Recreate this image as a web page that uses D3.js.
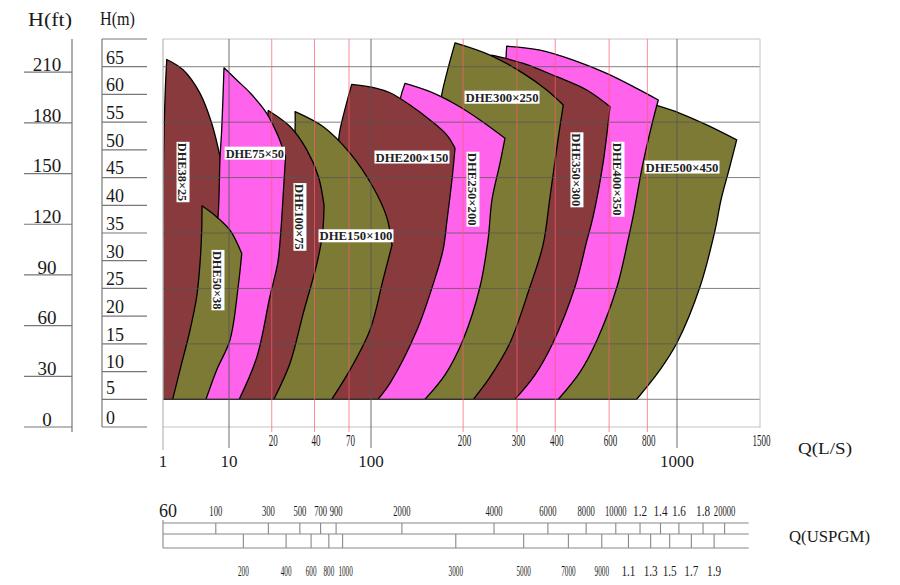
<!DOCTYPE html>
<html lang="en">
<head>
  <meta charset="UTF-8">
  <title>DHE pump selection chart</title>
  <style>
    body { margin: 0; background: #fff; }
    svg { display: block; }
    .serif { font-family: "Liberation Serif", "DejaVu Serif", serif; fill: #1a1a1a; }
    .pump-label { font-family: "Liberation Serif", "DejaVu Serif", serif; font-weight: bold; fill: #222; }
  </style>
  <script src="https://cdn.jsdelivr.net/npm/d3@7"></script>
</head>
<body>
  <svg id="chart"></svg>
  <script>
    // ---- axis ticks ----
    const mTicks = [0, 5, 10, 15, 20, 25, 30, 35, 40, 45, 50, 55, 60, 65];
    const ftTicks = [0, 30, 60, 90, 120, 150, 180, 210];
    const gridH = [5, 15, 25, 35, 45, 55, 65];
    const qDecades = [1, 10, 100, 1000];
    const qRed = [20, 40, 70, 200, 300, 400, 600, 800];
    const qEdge = 1500;
    const gpmTop = [100, 300, 500, 700, 900, 2000, 4000, 6000, 8000, 10000, 12000, 14000, 16000, 18000, 20000];
    const gpmTopText = ["100", "300", "500", "700", "900", "2000", "4000", "6000", "8000", "10000", "1.2", "1.4", "1.6", "1.8", "20000"];
    const gpmBottom = [200, 400, 600, 800, 1000, 3000, 5000, 7000, 9000, 11000, 13000, 15000, 17000, 19000];
    const gpmBottomText = ["200", "400", "600", "800", "1000", "3000", "5000", "7000", "9000", "1.1", "1.3", "1.5", "1.7", "1.9"];
    const gpmPerLs = 15.85;
    const rulerEndGpm = 22500;

    // ---- pump envelopes, [Q (L/s), H (m)] ----
    const dhe38 = {
      left: [[1, 5], [1.0, 41], [1.07, 59], [1.14, 66.3]],
      top: [[1.14, 66.3], [2.03, 64.4], [3.64, 60.2], [5.47, 54.8], [7.31, 48.8]],
      right: [[7.31, 48.8], [8.4, 41], [8.7, 30], [6.1, 5]]
    };
    const dhe50 = {
      left: [[1.40, 5], [1.81, 10.3], [2.57, 17.5], [3.24, 23.5], [3.64, 29.6], [3.86, 35.5], [3.90, 39.9]],
      top: [[3.90, 39.9], [6.51, 37.9], [10.16, 35.5], [12.3, 31.3]],
      right: [[12.3, 31.3], [11.6, 25.3], [10.16, 15.7], [6.51, 10.3], [4.48, 5]]
    };
    const dhe75 = {
      left: [[2.57, 5], [4.33, 22.9], [6.14, 34.6], [6.81, 37.9], [7.31, 48.5], [7.75, 53.6], [8.4, 64.8]],
      top: [[8.4, 64.8], [11.33, 62.6], [14.06, 60.3], [18.43, 56.6], [22.24, 52.4], [25.0, 48.7]],
      right: [[25.0, 48.7], [24.2, 42.8], [23.2, 35.5], [22.1, 29.8], [19.4, 23.5], [15.7, 12.6], [11.8, 5]]
    };
    const dhe100 = {
      left: [[8.7, 5], [12.96, 17.5], [16.5, 35.5], [17.9, 50], [18.9, 57.1]],
      top: [[18.9, 57.1], [26.9, 54.2], [35.3, 50], [42.6, 45.2], [46.7, 40]],
      right: [[46.7, 40], [45.6, 35], [41.7, 29.6], [33.4, 20.6], [26.9, 11.5], [20.7, 5]]
    };
    const dhe150 = {
      left: [[16.5, 5], [22.9, 22.9], [26.9, 41], [29.2, 53.9], [29.2, 56.9]],
      top: [[29.2, 56.9], [45.9, 54.2], [71.1, 49.4], [101.5, 43.3], [112.5, 37.9], [117.1, 32.8]],
      right: [[117.1, 32.8], [109.4, 26.5], [98.4, 17.5], [71.1, 10.3], [52.9, 5]]
    };
    const dhe200 = {
      left: [[34.3, 5], [43.7, 22.9], [51.4, 41], [58.6, 50.9], [60.5, 53.6], [73.1, 61.8]],
      top: [[73.1, 61.8], [104.4, 61.1], [115.4, 60.3], [134.1, 58.1], [155.9, 55.4], [176.8, 52.7], [188.2, 50.3]],
      right: [[188.2, 50.3], [183.9, 44.6], [177.2, 37.3], [171.9, 31.9], [158.2, 25.1], [141.3, 17.5], [115.4, 7.9], [105.4, 5]]
    };
    const dhe250 = {
      left: [[83.6, 5], [111.1, 31.9], [119.8, 50], [124.4, 59], [129.2, 62]],
      top: [[129.2, 62], [155.9, 60.5], [190.6, 58.1], [227.1, 55.4], [274.1, 52.1]],
      right: [[274.1, 52.1], [264, 47.6], [248.5, 41], [241.2, 33.7], [227.1, 25.3], [199.8, 15.7], [174.5, 9.4], [150.1, 5]]
    };
    const dhe300 = {
      left: [[124.4, 5], [150.1, 31.9], [161.9, 50], [170.2, 59.9], [176.8, 63.8], [188.2, 69.3]],
      top: [[188.2, 69.3], [244.8, 67.1], [314.6, 63.8], [375.1, 60.8], [425, 58.1]],
      right: [[425, 58.1], [408.3, 51.8], [384.6, 41.5], [364.8, 32.8], [330.8, 25.3], [284.6, 15.2], [244.8, 9], [216, 5]]
    };
    const dhe350 = {
      left: [[168.1, 5], [195.4, 22.9], [227.1, 41], [241.2, 59], [248, 67.1]],
      top: [[248, 67.1], [314.6, 65.6], [404.4, 63.2], [507, 60.8], [603.9, 57.8]],
      right: [[603.9, 57.8], [573.2, 47.6], [531.6, 37.9], [507.9, 33.7], [464.2, 25.3], [393.3, 15.2], [343.5, 9.4], [295.5, 5]]
    };
    const dhe400 = {
      left: [[227.1, 5], [244.8, 22.9], [264, 41], [274.1, 59], [276.2, 66.6], [277.6, 68.7]],
      top: [[277.6, 68.7], [356.7, 68], [458.3, 66.2], [589.2, 63.8], [738.4, 61.1], [868.7, 59]],
      right: [[868.7, 59], [835, 55.4], [774.3, 47.6], [718.2, 37.9], [691.7, 33.7], [636.8, 25.3], [547.9, 15.7], [482, 9.9], [409.3, 5]]
    };
    const dhe500 = {
      left: [[330.8, 5], [500.5, 22.9], [676.3, 41], [757, 50], [847.6, 58.1]],
      top: [[847.6, 58.1], [1014.8, 56.6], [1156, 54.5], [1338.6, 51.8]],
      right: [[1338.6, 51.8], [1290, 46.5], [1240, 41], [1204.2, 35.5], [1119, 25.3], [1000, 15.2], [879.7, 10.3], [738.4, 5]]
    };

    const pumpNames = ["DHE38×25", "DHE50×38", "DHE75×50", "DHE100×75", "DHE150×100", "DHE200×150",
                       "DHE250×200", "DHE300×250", "DHE350×300", "DHE400×350", "DHE500×450"];
    const pumpShapes = [dhe38, dhe50, dhe75, dhe100, dhe150, dhe200, dhe250, dhe300, dhe350, dhe400, dhe500];
    const labelAt = [[2.01, 46], [6.81, 26.5], [15.2, 49.4], [31.6, 37.9], [78.4, 34.5], [136.1, 48.7],
                     [215.4, 42.9], [268, 59.5], [471, 46.4], [641.6, 44.7], [1024.7, 46.9]];

    // ---- styles ----
    const palette = { brown: "#893a3d", olive: "#7d7a35", pink: "#ff63ec" };
    const pumpFill = ["brown", "olive", "pink", "brown", "olive", "brown", "pink", "olive", "brown", "pink", "olive"];
    const labelVertical = [true, true, false, true, false, false, true, false, true, true, false];
    // smaller pumps sit on top of larger neighbours, the 38x25 lies underneath all
    const drawOrder = [0, 10, 9, 8, 7, 6, 5, 4, 3, 2, 1];

    const width = 900, height = 585;
    const svg = d3.select("#chart").attr("width", width).attr("height", height);

    const x = d3.scaleLog().domain([1, 10, 100, 1000, 1500]).range([163, 229, 371, 677, 760]);
    const y = d3.scaleLinear().domain([0, 70]).range([427, 39]);
    const xL = x(1), xR = x(qEdge), yB = y(0), yT = y(70);

    svg.append("clipPath").attr("id", "plot-clip")
      .append("rect").attr("x", xL + 0.6).attr("y", yT).attr("width", xR - xL).attr("height", yB - yT);

    // ---- pump areas ----
    const side = d3.line().x(d => x(d[0])).y(d => y(d[1])).curve(d3.curveCatmullRom.alpha(0.5));
    function outline(p) {
      return side(p.left) + side(p.top).replace(/^M/, "L") + side(p.right).replace(/^M/, "L") + "Z";
    }

    svg.append("g").attr("clip-path", "url(#plot-clip)")
      .selectAll("path")
      .data(drawOrder)
      .join("path")
      .attr("d", i => outline(pumpShapes[i]))
      .attr("fill", i => palette[pumpFill[i]])
      .attr("stroke", "#000")
      .attr("stroke-width", 1.3)
      .attr("stroke-linejoin", "round");

    // ---- grid ----
    const grid = svg.append("g");
    grid.selectAll(".hg").data(gridH).join("line")
      .attr("x1", xL).attr("x2", xR).attr("y1", d => y(d)).attr("y2", d => y(d))
      .attr("stroke", "#555").attr("stroke-opacity", 0.75).attr("stroke-width", 1);
    grid.selectAll(".he").data([0, 70]).join("line")
      .attr("x1", xL).attr("x2", xR).attr("y1", d => y(d)).attr("y2", d => y(d))
      .attr("stroke", "#c4c4c4").attr("stroke-width", 1);
    grid.selectAll(".vr").data(qRed).join("line")
      .attr("x1", d => x(d)).attr("x2", d => x(d)).attr("y1", yT).attr("y2", yB + 5)
      .attr("stroke", "#ff5a6e").attr("stroke-opacity", 0.7).attr("stroke-width", 1);
    grid.selectAll(".vd").data(qDecades).join("line")
      .attr("x1", d => x(d)).attr("x2", d => x(d)).attr("y1", yT).attr("y2", d => yB + (d === 1 ? 23 : 21))
      .attr("stroke", d => d === 1 ? "#999" : "#555").attr("stroke-opacity", 0.85).attr("stroke-width", 1);
    grid.append("line")
      .attr("x1", xR).attr("x2", xR).attr("y1", yT).attr("y2", yB + 1)
      .attr("stroke", "#c4c4c4").attr("stroke-width", 1);

    // ---- pump labels ----
    const labels = svg.append("g").selectAll("g")
      .data(pumpNames)
      .join("g")
      .attr("transform", (d, i) => `translate(${x(labelAt[i][0])},${y(labelAt[i][1])})` + (labelVertical[i] ? " rotate(90)" : ""));
    labels.append("rect")
      .attr("x", d => -d.length * 3.65 - 1).attr("y", -6.5)
      .attr("width", d => d.length * 7.3 + 2).attr("height", 13)
      .attr("fill", "#fff");
    labels.append("text")
      .attr("class", "pump-label")
      .attr("text-anchor", "middle")
      .attr("dy", "0.35em")
      .attr("font-size", 13)
      .attr("textLength", d => d.length * 7.3)
      .attr("lengthAdjust", "spacingAndGlyphs")
      .text(d => d);

    // squeeze a text horizontally to a target width (condensed tick numbers)
    function squeeze(sel, cx, cy, target) {
      sel.each(function (d, i) {
        const natural = this.getComputedTextLength() || 1;
        const k = Math.min(1, target(d, i) / natural);
        d3.select(this).attr("transform", `translate(${cx(d, i)},${cy}) scale(${k},1)`);
      });
    }

    // ---- x axis (L/s) labels ----
    const qSmall = svg.append("g").selectAll("text")
      .data(qRed.concat([qEdge]))
      .join("text")
      .attr("class", "serif")
      .attr("dy", "0.35em")
      .attr("text-anchor", "middle").attr("font-size", 17)
      .attr("fill", "#444")
      .text(d => d);
    squeeze(qSmall, d => x(d) + 1.5, yB + 13, d => String(d).length * 4.5);

    svg.append("g").selectAll("text")
      .data(qDecades)
      .join("text")
      .attr("class", "serif")
      .attr("x", d => x(d)).attr("y", yB + 34).attr("dy", "0.35em")
      .attr("text-anchor", "middle").attr("font-size", 17)
      .text(d => d);
    svg.append("text").attr("class", "serif")
      .attr("x", 798).attr("y", yB + 21).attr("dy", "0.35em")
      .attr("font-size", 17).attr("textLength", 54).attr("lengthAdjust", "spacingAndGlyphs")
      .text("Q(L/S)");

    // ---- left axes ----
    const axisStroke = "#777";
    const ftX = 72, ftX0 = 24, mX = 102, mX1 = 147;
    svg.append("line").attr("x1", ftX).attr("x2", ftX).attr("y1", yT).attr("y2", yB + 5)
      .attr("stroke", axisStroke).attr("stroke-width", 1.2);
    svg.append("g").selectAll("line").data(ftTicks).join("line")
      .attr("x1", ftX0).attr("x2", ftX).attr("y1", d => y(d * 0.3048)).attr("y2", d => y(d * 0.3048))
      .attr("stroke", axisStroke).attr("stroke-width", 1.2);
    svg.append("g").selectAll("text").data(ftTicks).join("text")
      .attr("class", "serif")
      .attr("x", 47).attr("y", d => y(d * 0.3048) - 8).attr("dy", "0.35em")
      .attr("text-anchor", "middle").attr("font-size", 19)
      .text(d => d);

    svg.append("line").attr("x1", mX).attr("x2", mX).attr("y1", yT).attr("y2", yB)
      .attr("stroke", axisStroke).attr("stroke-width", 1.2);
    svg.append("g").selectAll("line").data(mTicks.concat([70])).join("line")
      .attr("x1", mX).attr("x2", mX1).attr("y1", d => y(d)).attr("y2", d => y(d))
      .attr("stroke", axisStroke).attr("stroke-width", 1.2);
    svg.append("g").selectAll("text").data(mTicks).join("text")
      .attr("class", "serif")
      .attr("x", 106).attr("y", d => y(d) - (d === 5 ? 12 : 9.5)).attr("dy", "0.35em")
      .attr("font-size", 18)
      .text(d => d);

    svg.append("text").attr("class", "serif")
      .attr("x", 28).attr("y", 20).attr("dy", "0.35em")
      .attr("font-size", 18).attr("textLength", 44).attr("lengthAdjust", "spacingAndGlyphs")
      .text("H(ft)");
    svg.append("text").attr("class", "serif")
      .attr("x", 100).attr("y", 19).attr("dy", "0.35em")
      .attr("font-size", 18).attr("textLength", 35).attr("lengthAdjust", "spacingAndGlyphs")
      .text("H(m)");

    // ---- USGPM ruler ----
    const gx = g => x(g / gpmPerLs);
    const rTop = 523, rMid = 534, rBot = 548;
    const ruler = svg.append("g").attr("stroke", "#888").attr("stroke-width", 1.1);
    [rTop, rMid, rBot].forEach(ry => {
      ruler.append("line").attr("x1", xL).attr("x2", gx(rulerEndGpm)).attr("y1", ry).attr("y2", ry);
    });
    ruler.append("line").attr("x1", xL).attr("x2", xL).attr("y1", rTop - 3).attr("y2", rBot);
    ruler.selectAll(".tt").data(gpmTop).join("line")
      .attr("x1", d => gx(d)).attr("x2", d => gx(d)).attr("y1", rTop).attr("y2", rMid);
    ruler.selectAll(".tb").data(gpmBottom).join("line")
      .attr("x1", d => gx(d)).attr("x2", d => gx(d)).attr("y1", rMid).attr("y2", rBot);

    const isShort = t => t.indexOf(".") >= 0;
    const topText = svg.append("g").selectAll("text").data(gpmTop).join("text")
      .attr("class", "serif")
      .attr("dy", "0.35em")
      .attr("text-anchor", "middle")
      .attr("font-size", (d, i) => isShort(gpmTopText[i]) ? 14 : 15)
      .attr("fill", "#333")
      .text((d, i) => gpmTopText[i]);
    squeeze(topText, d => gx(d), 511, (d, i) => isShort(gpmTopText[i]) ? 14 : gpmTopText[i].length * 4.3);

    const bottomText = svg.append("g").selectAll("text").data(gpmBottom).join("text")
      .attr("class", "serif")
      .attr("dy", "0.35em")
      .attr("text-anchor", "middle")
      .attr("font-size", (d, i) => isShort(gpmBottomText[i]) ? 14 : 15)
      .attr("fill", "#333")
      .text((d, i) => gpmBottomText[i]);
    squeeze(bottomText, (d, i) => gx(d) + (gpmBottomText[i] === "1000" ? 3 : 0), 571,
      (d, i) => isShort(gpmBottomText[i]) ? 14 : gpmBottomText[i].length * 3.6);

    svg.append("text").attr("class", "serif")
      .attr("x", xL - 4).attr("y", 511).attr("dy", "0.35em")
      .attr("font-size", 18)
      .text("60");
    svg.append("text").attr("class", "serif")
      .attr("x", 789).attr("y", 536).attr("dy", "0.35em")
      .attr("font-size", 17).attr("textLength", 81).attr("lengthAdjust", "spacingAndGlyphs")
      .text("Q(USPGM)");
  </script>
</body>
</html>
